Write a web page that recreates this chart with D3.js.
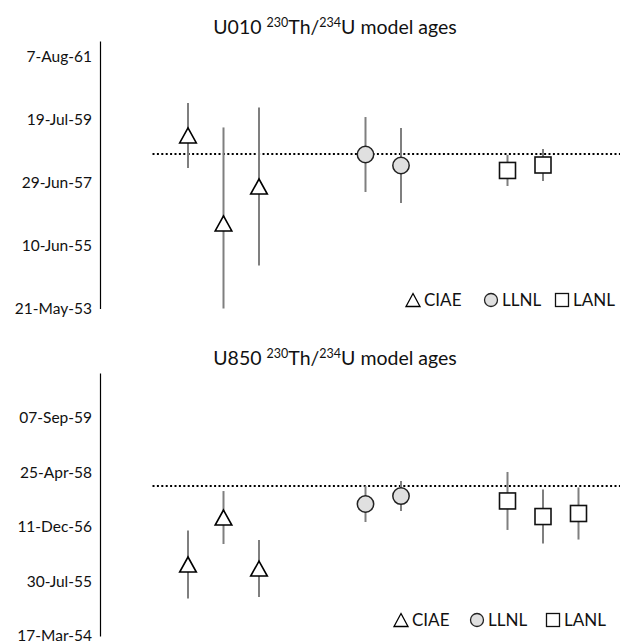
<!DOCTYPE html>
<html>
<head>
<meta charset="utf-8">
<script src="https://cdn.jsdelivr.net/npm/d3@7"></script>
<style>
  html, body { margin: 0; padding: 0; background: #fff; }
  svg { display: block; font-family: Lato, "Open Sans", sans-serif; }
</style>
</head>
<body>
<svg id="chart" width="620" height="643"></svg>
<script>
// ---------- data ----------
const slots = ["CIAE-1","CIAE-2","CIAE-3","g1","g2","LLNL-1","LLNL-2","g3","g4","LANL-1","LANL-2","LANL-3"];
const legendLabels = ["CIAE", "LLNL", "LANL"];

// U010 panel
const topTitle = ["U010 ", "230", "Th/", "234", "U model ages"];
const topTicks = ["1953-05-21","1955-06-10","1957-06-29","1959-07-19","1961-08-07"];
const topDomain = ["1953-05-21","1962-02-07"];
const topRef = "1958-06-03";
const topCIAE = ["1959-01-10","1956-02-27","1957-05-12"];
const topCIAEErr = [387, 1143, 940];
const topLLNL = ["1958-05-28","1958-01-17"];
const topLLNLErr = [446, 446];
const topLANL = ["1957-11-19","1958-01-23"];
const topLANLErr = [185, 190];

// U850 panel
const botTitle = ["U850 ", "230", "Th/", "234", "U model ages"];
const botTicks = ["1954-03-17","1955-07-30","1956-12-11","1958-04-25","1959-09-07"];
const botDomain = ["1954-03-17","1960-10-24"];
const botRef = "1957-12-22";
const botCIAE = ["1956-01-02","1957-03-08","1955-11-26"];
const botCIAEErr = [312, 243, 261];
const botLLNL = ["1957-07-10","1957-09-21"];
const botLLNLErr = [165, 138];
const botLANL = ["1957-08-07","1957-03-17","1957-04-14"];
const botLANLErr = [266, 248, 239];

// ---------- drawing ----------
const svg = d3.select("#chart");
const DAY = 86400000;
const parse = d3.utcParse("%Y-%m-%d");

const x = d3.scalePoint().domain(slots).range([188, 578.5]);
const step = x.step();

const symTri = "M0,-7.5L8.3,7.5L-8.3,7.5Z";
const symTriL = "M0,-6.5L7,6.5L-7,6.5Z";

function panel(cfg) {
  const g = svg.append("g");
  const y = d3.scaleUtc()
    .domain(cfg.domain.map(parse))
    .range(cfg.range);

  // title
  const t = g.append("text")
    .attr("x", cfg.titleX).attr("y", cfg.titleY)
    .attr("text-anchor", "middle")
    .attr("font-size", 19.5).attr("fill", "#111");
  cfg.title.forEach((s, i) => {
    const sup = (i === 1 || i === 3);
    t.append("tspan")
      .attr("font-size", sup ? 12.5 : 19.5)
      .attr("dy", sup ? -7 : (i === 0 ? 0 : 7))
      .text(s);
  });

  // axis
  const ax = d3.axisLeft(y)
    .tickValues(cfg.ticks.map(parse))
    .tickFormat(d3.utcFormat(cfg.fmt))
    .tickSize(0).tickSizeOuter(0).tickPadding(8);
  const axg = g.append("g").attr("transform", "translate(100,0)").call(ax);
  axg.select(".domain").attr("stroke", "#000").attr("stroke-width", 1.2);
  axg.selectAll("text").attr("font-size", 15.5).attr("fill", "#111")
     .attr("font-family", "Lato, sans-serif");

  // reference line
  const ry = y(parse(cfg.ref));
  g.append("line")
    .attr("x1", x(slots[0]) - step).attr("x2", 620)
    .attr("y1", ry).attr("y2", ry)
    .attr("stroke", "#000").attr("stroke-width", 2)
    .attr("stroke-dasharray", "2,2.4");

  const [ymax, ymin] = [d3.max(cfg.range), d3.min(cfg.range)];
  const series = [
    { name: "CIAE", vals: cfg.ciae, err: cfg.ciaeErr },
    { name: "LLNL", vals: cfg.llnl, err: cfg.llnlErr },
    { name: "LANL", vals: cfg.lanl, err: cfg.lanlErr }
  ];
  // error bars
  series.forEach(s => {
    s.vals.forEach((v, i) => {
      const d = parse(v);
      const cx = x(s.name + "-" + (i + 1));
      const y1 = Math.min(ymax, y(new Date(+d - s.err[i] * DAY)));
      const y2 = Math.max(ymin, y(new Date(+d + s.err[i] * DAY)));
      g.append("line")
        .attr("x1", cx).attr("x2", cx).attr("y1", y1).attr("y2", y2)
        .attr("stroke", "#7f7f7f").attr("stroke-width", 2);
    });
  });
  // markers
  series.forEach(s => {
    s.vals.forEach((v, i) => {
      const cx = x(s.name + "-" + (i + 1));
      const cy = y(parse(v));
      drawSym(g, s.name, cx, cy, false);
    });
  });

  // legend
  const lg = g.append("g");
  legendLabels.forEach((name, i) => {
    const lx = cfg.legendX[i];
    drawSym(lg, name, lx, cfg.legendY, true);
    lg.append("text")
      .attr("x", lx + 11).attr("y", cfg.legendY)
      .attr("dy", "0.36em")
      .attr("font-size", 17).attr("fill", "#111")
      .text(name);
  });
}

function drawSym(g, name, cx, cy, small) {
  if (name === "CIAE") {
    g.append("path").attr("d", small ? symTriL : symTri)
      .attr("transform", `translate(${cx},${cy})`)
      .attr("fill", "#fff").attr("stroke", "#000")
      .attr("stroke-width", small ? 1.3 : 1.6);
  } else if (name === "LLNL") {
    g.append("circle").attr("cx", cx).attr("cy", cy).attr("r", small ? 6.5 : 8.2)
      .attr("fill", "#e0e0e0").attr("stroke", "#222")
      .attr("stroke-width", small ? 1.3 : 1.5);
  } else {
    const h = small ? 6.5 : 8;
    g.append("rect").attr("x", cx - h).attr("y", cy - h)
      .attr("width", 2 * h).attr("height", 2 * h)
      .attr("fill", "#fff").attr("stroke", "#111")
      .attr("stroke-width", small ? 1.3 : 1.6);
  }
}

panel({
  title: topTitle, titleX: 335, titleY: 34,
  domain: topDomain, range: [308.5, 41], ticks: topTicks, fmt: "%-d-%b-%y",
  ref: topRef,
  ciae: topCIAE, ciaeErr: topCIAEErr,
  llnl: topLLNL, llnlErr: topLLNLErr,
  lanl: topLANL, lanlErr: topLANLErr,
  legendX: [413, 491, 562], legendY: 300
});

panel({
  title: botTitle, titleX: 335, titleY: 365,
  domain: botDomain, range: [636, 373], ticks: botTicks, fmt: "%d-%b-%y",
  ref: botRef,
  ciae: botCIAE, ciaeErr: botCIAEErr,
  llnl: botLLNL, llnlErr: botLLNLErr,
  lanl: botLANL, lanlErr: botLANLErr,
  legendX: [401, 477, 553], legendY: 620
});
</script>
</body>
</html>
